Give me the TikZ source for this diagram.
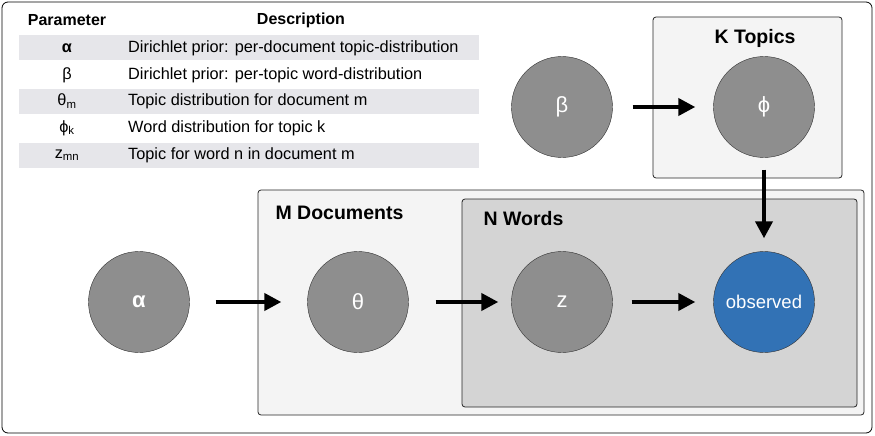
\documentclass[tikz,border=0pt]{standalone}
\usepackage{fontspec}
\setmainfont{Liberation Sans}
\usetikzlibrary{positioning, arrows.meta}

\definecolor{nodegray}{HTML}{8E8E8E}
\definecolor{obsblue}{HTML}{3272B5}
\definecolor{platelight}{HTML}{F4F4F4}
\definecolor{platedark}{HTML}{D4D4D4}
\definecolor{rowshade}{HTML}{E6E6EA}

\tikzset{
  var/.style={circle, draw=black!80, fill=nodegray, minimum size=101pt, inner sep=0pt,
    text=white, font=\fontsize{22}{26}\selectfont},
  plate/.style={draw=black!85, rounded corners=3pt, line width=0.8pt},
  platelabel/.style={font=\bfseries\fontsize{19.5}{23}\selectfont},
  edge/.style={-{Triangle[length=17pt,width=17pt]}, line width=4pt},
  cell/.style={font=\fontsize{16.3}{19}\selectfont, inner sep=0pt},
}

\begin{document}
\begin{tikzpicture}[x=1pt, y=-1pt]
        % Frame
        \useasboundingbox (0,0) rectangle (875,436);
        \draw[rounded corners=6pt, line width=0.8pt] (2,2) rectangle (872,433);

        % Parameter table
        \foreach \y in {48,101,155} {
            \fill[rowshade] (19,\y-12.5) rectangle (479,\y+12.5);
        }
        \node[cell, font=\bfseries\fontsize{16}{19}\selectfont] (hpar) at (67,20) {Parameter};
        \node[cell, font=\bfseries\fontsize{16}{19}\selectfont] (hdesc) at (301,20) {Description};
        \node[cell] (palpha) at (67,48) {\textbf{α}};
        \node[cell] (pbeta) at (67,75) {β};
        \node[cell] (ptheta) at (67,101) {θ\textsubscript{m}};
        \node[cell] (pphi) at (67,128) {ϕ\textsubscript{k}};
        \node[cell] (pz) at (67,155) {z\textsubscript{mn}};
        \node[cell, anchor=west] (dalpha) at (128,48) {Dirichlet prior: per-document topic-distribution};
        \node[cell, anchor=west] (dbeta) at (128,75) {Dirichlet prior: per-topic word-distribution};
        \node[cell, anchor=west] (dtheta) at (128,101) {Topic distribution for document m};
        \node[cell, anchor=west] (dphi) at (128,128) {Word distribution for topic k};
        \node[cell, anchor=west] (dz) at (128,155) {Topic for word n in document m};

        % Plates
        \draw[plate, fill=platelight] (653,17) rectangle (842,178);
        \draw[plate, fill=platelight] (258,190) rectangle (864,415);
        \draw[plate, fill=platedark] (462,199) rectangle (857,407);
        \node[platelabel] (ktopics) at (755,38) {K Topics};
        \node[platelabel, anchor=west] (mdocs) at (272,213) {M Documents};
        \node[platelabel, anchor=west] (nwords) at (480,219) {N Words};

        % Variables
        \node[var] (beta) at (562,107) {β};
        \node[var] (phi) at (764,107) {ϕ};
        \node[var] (alpha) at (139,302) {\bfseries α};
        \node[var] (theta) at (358,302) {θ};
        \node[var] (z) at (562,302) {z};
        \node[var, fill=obsblue, font=\fontsize{18.5}{22}\selectfont] (obs) at (764,302) {observed};

        % Edges
        \draw[edge, shorten <=20pt, shorten >=18pt] (beta) -- (phi);
        \draw[edge, shorten <=12pt, shorten >=13pt] (phi) -- (obs);
        \draw[edge, shorten <=26pt, shorten >=26pt] (alpha) -- (theta);
        \draw[edge, shorten <=27pt, shorten >=13pt] (theta) -- (z);
        \draw[edge, shorten <=19pt, shorten >=18pt] (z) -- (obs);
    \end{tikzpicture}
\end{document}
